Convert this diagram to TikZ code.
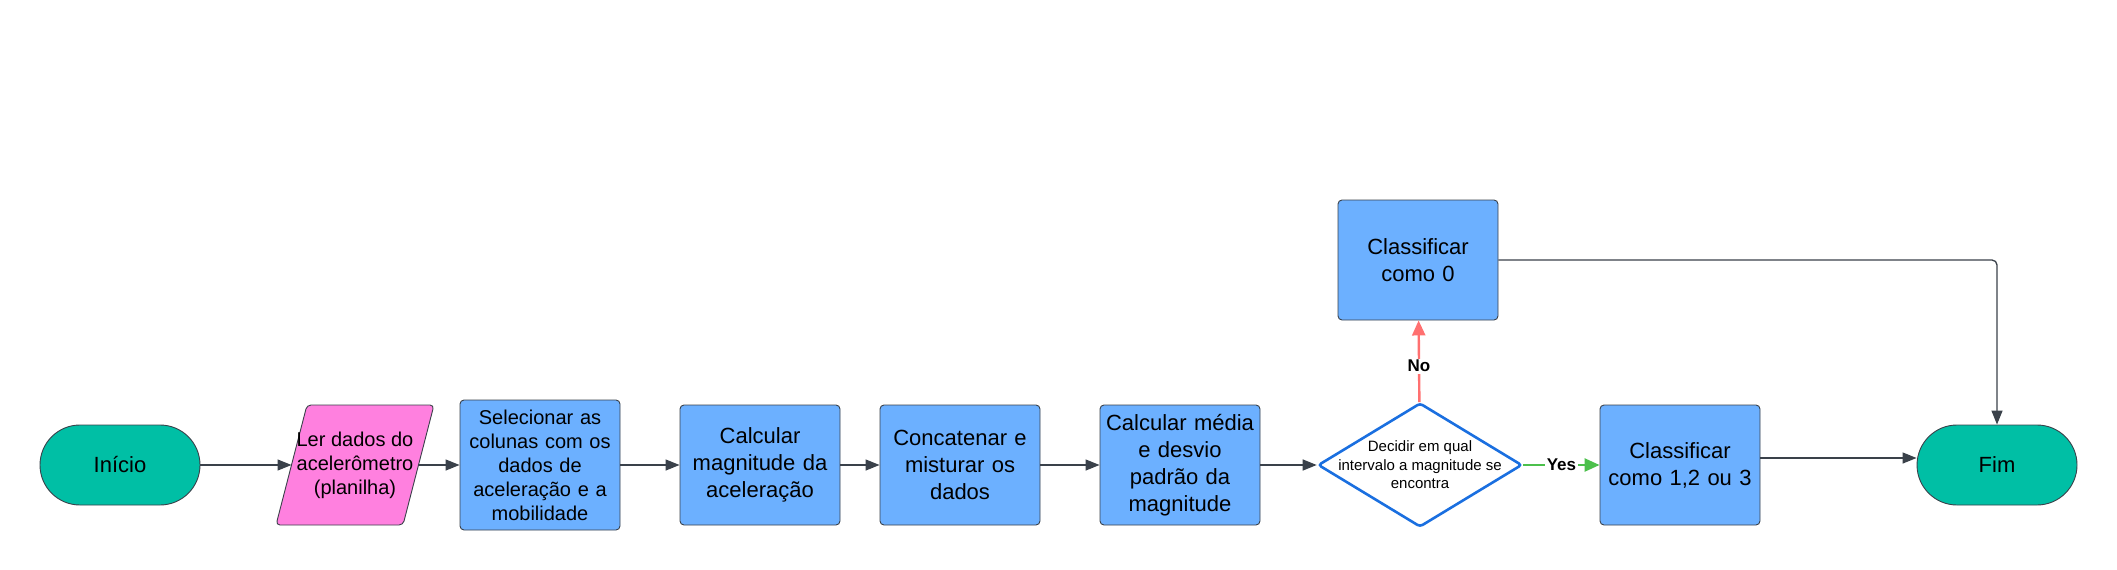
\documentclass[tikz,border=0pt]{standalone}
\usepackage{fontspec}
\setmainfont{Liberation Sans}
\usetikzlibrary{shapes.geometric,arrows.meta}
\definecolor{termcol}{HTML}{00BFA5}
\definecolor{pinkcol}{HTML}{FF80DF}
\definecolor{bluebox}{HTML}{6CB0FF}
\definecolor{diamblue}{HTML}{1A6FE0}
\definecolor{edgecol}{HTML}{3A414A}
\definecolor{redarrow}{HTML}{FF7070}
\definecolor{greenarrow}{HTML}{4CC04C}
\begin{document}
\begin{tikzpicture}[x=1pt,y=-1pt,
  box/.style={draw=edgecol, line width=0.9pt, fill=bluebox, rounded corners=4pt,
    minimum width=160pt, minimum height=120pt, inner sep=0pt, align=center,
    text width=150pt, font=\fontsize{22}{27}\selectfont},
  term/.style={draw=edgecol, line width=0.9pt, fill=termcol, rounded corners=40pt,
    minimum width=160pt, minimum height=80pt, inner sep=0pt, font=\fontsize{22}{27}\selectfont},
  conn/.style={draw=edgecol, line width=1.3pt, -{Triangle[length=14pt,width=11pt]}},
  branch/.style={line width=2.4pt, -{Triangle[length=15pt,width=13pt]}},
  lbl/.style={fill=white, inner sep=1.5pt, font=\bfseries\fontsize{17}{20}\selectfont},
]
\useasboundingbox (0,0) rectangle (2117,570);

% terminals
\node[term] (ini) at (120,465) {Início};
\node[term] (fim) at (1997,465) {Fim};

% parallelogram (input)
\draw[draw=edgecol, line width=0.9pt, fill=pinkcol, rounded corners=4pt]
  (276,525) -- (307,405) -- (434,405) -- (403,525) -- cycle;
\node[align=center, font=\fontsize{20}{24}\selectfont] (ler) at (355,465)
  {Ler dados do\\acelerômetro\\(planilha)};
\coordinate (lerW) at (291.5,465);
\coordinate (lerE) at (418.5,465);

% process boxes
\node[box, minimum height=130pt, font=\fontsize{20}{24}\selectfont] (sel) at (540,465)
  {Selecionar as\\colunas com os\\dados de\\aceleração e a\\mobilidade};
\node[box] (mag) at (760,465) {Calcular\\magnitude da\\aceleração};
\node[box] (conc) at (960,465) {Concatenar e\\misturar os\\dados};
\node[box] (med) at (1180,465) {Calcular média\\e desvio\\padrão da\\magnitude};

% decision
\node[diamond, draw=diamblue, line width=2.6pt, fill=white, minimum width=204pt,
  minimum height=124pt, inner sep=0pt, rounded corners=3pt] (dec) at (1420,465) {};
\node[align=center, font=\fontsize{15}{18.5}\selectfont] (dect) at (1420,465)
  {Decidir em qual\\intervalo a magnitude se\\encontra};

\node[box] (c0) at (1418,260) {Classificar\\como 0};
\node[box] (c123) at (1680,465) {Classificar\\como 1,2 ou 3};

% connectors
\draw[conn] (ini) -- (lerW);
\draw[conn] (lerE) -- (sel);
\draw[conn] (sel) -- (mag);
\draw[conn] (mag) -- (conc);
\draw[conn] (conc) -- (med);
\draw[conn] (med) -- (dec);
\draw[branch, draw=greenarrow] (dec) -- node[lbl] {Yes} (c123);
\draw[branch, draw=redarrow] (dec) -- node[lbl, pos=0.44] {No} (c0);
\draw[conn, rounded corners=5pt] (c0.east) -| (fim.north);
\draw[conn] ([yshift=7pt]c123.east) -- ([yshift=7pt]fim.west);
\end{tikzpicture}
\end{document}
